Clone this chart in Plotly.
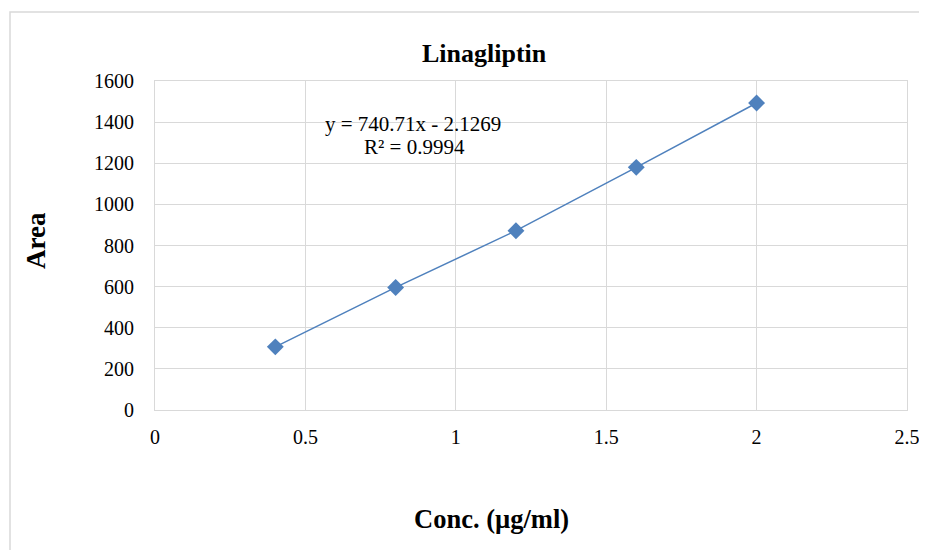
import plotly.graph_objects as go

conc = [0.4, 0.8, 1.2, 1.6, 2.0]
area = [307, 596, 872, 1180, 1493]
x_ticks = [0, 0.5, 1, 1.5, 2, 2.5]
y_ticks = [0, 200, 400, 600, 800, 1000, 1200, 1400, 1600]

FONT = "Liberation Serif, Times New Roman, serif"
GRID = "#d9d9d9"

fig = go.Figure()
fig.add_trace(go.Scatter(
    x=conc, y=area, mode="lines+markers",
    line=dict(color="#4f81bd", width=1.5),
    marker=dict(symbol="diamond", size=13, color="#4f81bd"),
    showlegend=False, hoverinfo="x+y",
))

OFF = 8  # page body margin
W, H = 927 - 2 * OFF, 550 - OFF
L, T = 155 - OFF, 81 - OFF
R = W - (907 - OFF)
B = H - (410 - OFF)
pw = W - L - R
ph = H - T - B

def px(xs):
    return (xs - OFF - L) / pw

def py(ys):
    return (H - B - (ys - OFF)) / ph

fig.update_layout(
    width=W, height=H,
    margin=dict(l=L, r=R, t=T, b=B),
    paper_bgcolor="white", plot_bgcolor="white",
    font=dict(family=FONT, color="#000000", size=20),
    xaxis=dict(range=[0, 2.5], tickvals=x_ticks, ticktext=[str(v) for v in x_ticks],
               showgrid=True, gridcolor=GRID, gridwidth=1,
               showline=True, linecolor=GRID, linewidth=1, mirror=True,
               zeroline=False, ticks="", ticklabelstandoff=9,
               ticklabeloverflow="allow", automargin=False,
               tickfont=dict(family=FONT, size=20)),
    yaxis=dict(range=[0, 1600], tickvals=y_ticks,
               showgrid=True, gridcolor=GRID, gridwidth=1,
               showline=True, linecolor=GRID, linewidth=1, mirror=True,
               zeroline=False, ticks="", ticklabelstandoff=16, automargin=False,
               tickfont=dict(family=FONT, size=20)),
    shapes=[dict(type="rect", xref="paper", yref="paper",
                 x0=px(10), x1=px(980), y0=py(620), y1=py(12),
                 line=dict(color=GRID, width=1.5), fillcolor="rgba(0,0,0,0)", layer="below")],
    annotations=[
        dict(text="<b>Linagliptin</b>", xref="paper", yref="paper",
             x=px(484), y=py(53), showarrow=False, xanchor="center", yanchor="middle",
             font=dict(family=FONT, size=26)),
        dict(text="<b>Area</b>", xref="paper", yref="paper", textangle=-90,
             x=px(36), y=py(241), showarrow=False, xanchor="center", yanchor="middle",
             font=dict(family=FONT, size=27)),
        dict(text="<b>Conc. (µg/ml)</b>", xref="paper", yref="paper",
             x=px(491), y=py(519), showarrow=False, xanchor="center", yanchor="middle",
             font=dict(family=FONT, size=26.5)),
        dict(text="y = 740.71x - 2.1269", xref="paper", yref="paper",
             x=px(413), y=py(124), showarrow=False, xanchor="center", yanchor="middle",
             font=dict(family=FONT, size=21)),
        dict(text="R² = 0.9994", xref="paper", yref="paper",
             x=px(414), y=py(147), showarrow=False, xanchor="center", yanchor="middle",
             font=dict(family=FONT, size=21)),
    ],
)

fig.write_html("out.html")
